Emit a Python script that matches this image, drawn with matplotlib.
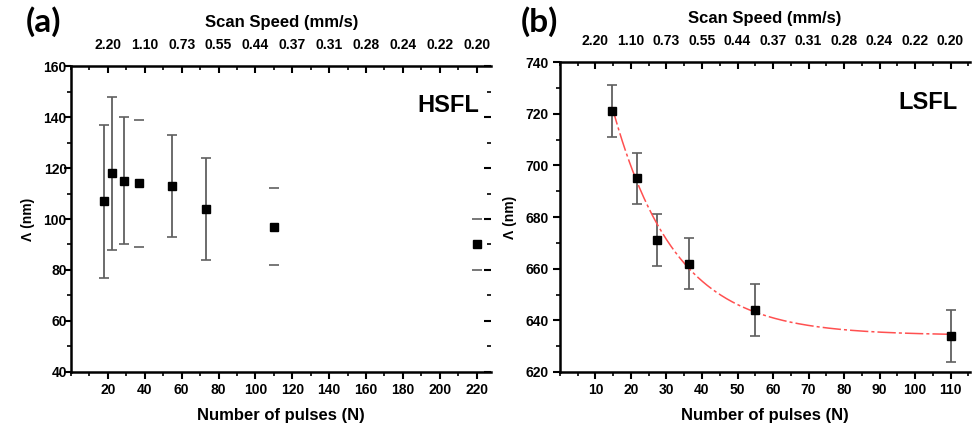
import numpy as np
import matplotlib
matplotlib.use('Agg')
import matplotlib.pyplot as plt
from matplotlib.ticker import MultipleLocator

plt.rcParams['font.family'] = ['Liberation Sans', 'DejaVu Sans']
plt.rcParams['font.weight'] = 'bold'

# panel (a): HSFL
pulses_a = [18, 22, 29, 37, 55, 73, 110, 220]
period_a = [107, 118, 115, 114, 113, 104, 97, 90]
err_a = [30, 30, 25, 25, 20, 20, 15, 10]
bar_line_a = [True, True, True, False, True, True, False, False]

# panel (b): LSFL
pulses_b = [14.7, 21.8, 27.4, 36.4, 54.9, 110]
period_b = [721, 695, 671, 662, 644, 634]
err_b = [10, 10, 10, 10, 10, 10]

# exponential decay fit y = y0 + A*exp(-N/t)
fit_y0, fit_A, fit_t = 634.2, 204.0, 17.6

speed_labels = ['2.20', '1.10', '0.73', '0.55', '0.44', '0.37',
                '0.31', '0.28', '0.24', '0.22', '0.20']
ticks_a = [20, 40, 60, 80, 100, 120, 140, 160, 180, 200, 220]
ticks_b = [10, 20, 30, 40, 50, 60, 70, 80, 90, 100, 110]

err_color = '#606060'
spine_w = 1.8

fig = plt.figure(figsize=(9.73, 4.29), dpi=100)
ax_a = fig.add_axes([0.073, 0.133, 0.432, 0.713])
ax_b = fig.add_axes([0.5755, 0.133, 0.4215, 0.722])


def style_axes(ax, xlim, ylim, xmin, ticks, labels, text):
    ax.set_xlim(*xlim)
    ax.set_ylim(*ylim)
    ax.set_xticks(ticks)
    ax.xaxis.set_minor_locator(MultipleLocator(xmin))
    ax.yaxis.set_major_locator(MultipleLocator(20))
    ax.yaxis.set_minor_locator(MultipleLocator(10))
    for s in ['left', 'bottom', 'top']:
        ax.spines[s].set_linewidth(spine_w)
    ax.spines['right'].set_visible(False)
    ax.tick_params(which='major', direction='out', length=5, width=1.5,
                   labelsize=10, pad=3)
    ax.tick_params(which='minor', direction='out', length=3, width=1.2)
    ax.set_xlabel('Number of pulses (N)', fontsize=12, fontweight='bold', labelpad=8)
    ax.set_ylabel('Λ (nm)', fontsize=10, fontweight='bold', labelpad=6)
    for lab in ax.get_xticklabels() + ax.get_yticklabels():
        lab.set_fontweight('bold')

    top = ax.twiny()
    top.set_xlim(*xlim)
    top.set_xticks(ticks)
    top.set_xticklabels(labels, fontsize=10, fontweight='bold')
    top.xaxis.set_minor_locator(MultipleLocator(xmin))
    top.tick_params(which='major', direction='in', length=5, width=1.5, pad=10)
    top.tick_params(which='minor', direction='in', length=3, width=1.2)
    for s in top.spines.values():
        s.set_visible(False)
    top.set_xlabel('Scan Speed (mm/s)', fontsize=12, fontweight='bold', labelpad=8)

    ax.text(0.97, 0.87, text, transform=ax.transAxes, ha='right', va='center',
            fontsize=17, fontweight='bold')


# panel (a)
for n, p, e, show in zip(pulses_a, period_a, err_a, bar_line_a):
    ax_a.errorbar(n, p, yerr=e, fmt='none', ecolor=err_color,
                  elinewidth=1.3 if show else 0, capsize=3.5, capthick=1.2)
ax_a.plot(pulses_a, period_a, 's', color='black', ms=6, zorder=5)
style_axes(ax_a, (0, 228), (40, 160), 10, ticks_a, speed_labels, 'HSFL')
# right-hand ticks without a visible spine
ax_a.tick_params(axis='y', which='both', right=True)
ax_a.tick_params(axis='y', which='major', direction='in', length=5)
ax_a.tick_params(axis='y', which='minor', direction='in', length=3)
ax_a.tick_params(axis='y', which='both', left=True)
for t in ax_a.yaxis.get_major_ticks() + ax_a.yaxis.get_minor_ticks():
    t.tick1line.set_marker(matplotlib.lines.TICKLEFT)

# panel (b)
n_fit = np.linspace(pulses_b[0], pulses_b[-1], 300)
ax_b.plot(n_fit, fit_y0 + fit_A * np.exp(-n_fit / fit_t), color='#ff5050',
          lw=1.1, dashes=(12, 2, 2, 2), zorder=3)
ax_b.errorbar(pulses_b, period_b, yerr=err_b, fmt='none', ecolor=err_color,
              elinewidth=1.3, capsize=3.5, capthick=1.2)
ax_b.plot(pulses_b, period_b, 's', color='black', ms=6, zorder=5)
style_axes(ax_b, (0, 115.5), (620, 740), 5, ticks_b, speed_labels, 'LSFL')

fig.text(0.026, 0.95, '(a)', fontsize=24, fontweight='bold', family='Lato', va='center')
fig.text(0.535, 0.95, '(b)', fontsize=24, fontweight='bold', family='Lato', va='center')

fig.savefig('out.png', dpi=100)
